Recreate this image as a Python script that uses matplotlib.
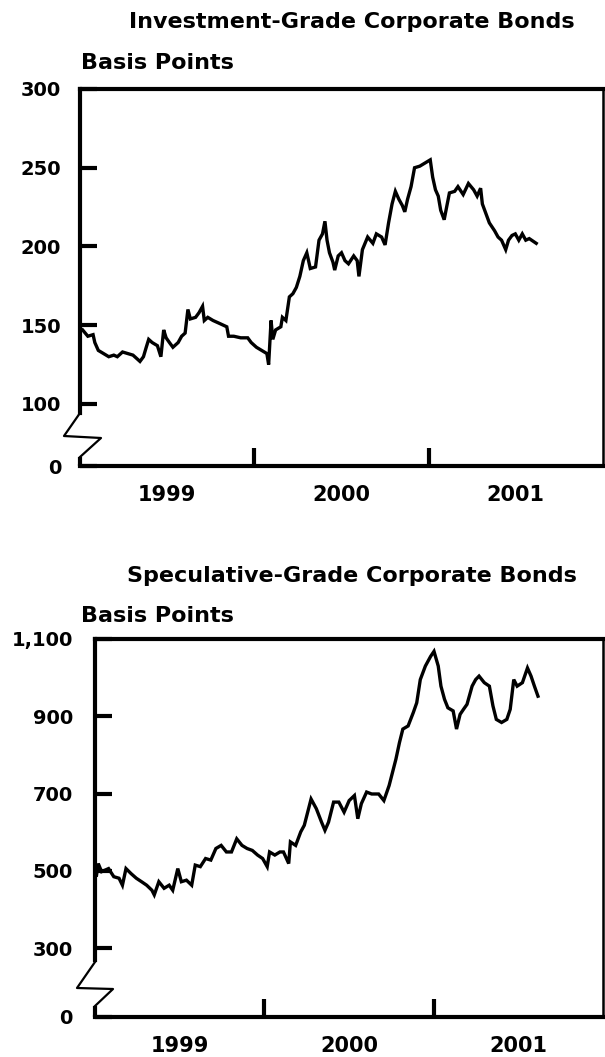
import matplotlib
matplotlib.use("Agg")
import matplotlib.pyplot as plt
from matplotlib.lines import Line2D

plt.rcParams['font.family'] = ['DejaVu Sans']
plt.rcParams['font.weight'] = 'bold'

W, H = 605, 1057

# investment-grade spread, basis points (x in decimal years)
ig_t = [1999.015, 1999.045, 1999.075, 1999.085, 1999.105, 1999.135, 1999.165, 1999.194,
        1999.214, 1999.244, 1999.274, 1999.304, 1999.324, 1999.344, 1999.364, 1999.380,
        1999.394, 1999.414, 1999.444, 1999.464, 1999.480, 1999.494, 1999.513, 1999.533,
        1999.563, 1999.583, 1999.603, 1999.619, 1999.633, 1999.663, 1999.683, 1999.703,
        1999.713, 1999.733, 1999.763, 1999.803, 1999.842, 1999.852, 1999.882, 1999.922,
        1999.962, 1999.982, 2000.012, 2000.042, 2000.072, 2000.082, 2000.096, 2000.106,
        2000.122, 2000.152, 2000.161, 2000.181, 2000.201, 2000.221, 2000.241, 2000.261,
        2000.281, 2000.301, 2000.321, 2000.351, 2000.371, 2000.391, 2000.405, 2000.417,
        2000.431, 2000.451, 2000.461, 2000.481, 2000.500, 2000.520, 2000.540, 2000.570,
        2000.590, 2000.600, 2000.620, 2000.650, 2000.680, 2000.700, 2000.730, 2000.750,
        2000.770, 2000.790, 2000.809, 2000.829, 2000.849, 2000.863, 2000.879, 2000.899,
        2000.919, 2000.949, 2000.979, 2001.009, 2001.023, 2001.039, 2001.055, 2001.069,
        2001.089, 2001.103, 2001.119, 2001.149, 2001.168, 2001.198, 2001.228, 2001.258,
        2001.278, 2001.298, 2001.308, 2001.328, 2001.348, 2001.378, 2001.398, 2001.418,
        2001.442, 2001.458, 2001.478, 2001.497, 2001.517, 2001.537, 2001.557, 2001.577,
        2001.617]
ig_bp = [147, 143, 144, 139, 134, 132, 130, 131,
         130, 133, 132, 131, 129, 127, 130, 136,
         141, 139, 137, 130, 147, 142, 139, 136,
         139, 143, 145, 160, 154, 155, 158, 162,
         153, 155, 153, 151, 149, 143, 143, 142,
         142, 139, 136, 134, 132, 125, 153, 141,
         147, 149, 155, 153, 168, 170, 174, 181,
         191, 196, 186, 187, 204, 208, 216, 204,
         196, 190, 185, 194, 196, 191, 189, 194,
         191, 181, 198, 206, 202, 208, 206, 201,
         215, 227, 235, 230, 226, 222, 230, 238,
         250, 251, 253, 255, 244, 236, 232, 223,
         217, 225, 234, 235, 238, 233, 240, 236,
         232, 237, 227, 221, 215, 210, 206, 204,
         198, 204, 207, 208, 204, 208, 204, 205,
         202]

# speculative-grade spread, basis points
sg_t = [1999.009, 1999.019, 1999.039, 1999.080, 1999.111, 1999.142, 1999.162, 1999.183,
        1999.213, 1999.244, 1999.275, 1999.305, 1999.336, 1999.350, 1999.377, 1999.408,
        1999.438, 1999.459, 1999.489, 1999.510, 1999.540, 1999.571, 1999.592, 1999.622,
        1999.653, 1999.684, 1999.714, 1999.745, 1999.776, 1999.806, 1999.837, 1999.868,
        1999.898, 1999.929, 1999.960, 1999.990, 2000.017, 2000.031, 2000.062, 2000.092,
        2000.113, 2000.144, 2000.154, 2000.185, 2000.215, 2000.236, 2000.256, 2000.276,
        2000.307, 2000.338, 2000.358, 2000.379, 2000.409, 2000.440, 2000.471, 2000.501,
        2000.532, 2000.552, 2000.573, 2000.604, 2000.634, 2000.675, 2000.706, 2000.737,
        2000.757, 2000.777, 2000.798, 2000.818, 2000.849, 2000.880, 2000.900, 2000.921,
        2000.951, 2000.982, 2001.002, 2001.027, 2001.043, 2001.064, 2001.084, 2001.115,
        2001.135, 2001.156, 2001.176, 2001.197, 2001.227, 2001.248, 2001.268, 2001.299,
        2001.329, 2001.350, 2001.370, 2001.401, 2001.432, 2001.452, 2001.473, 2001.493,
        2001.524, 2001.554, 2001.575, 2001.595, 2001.616]
sg_bp = [489, 519, 498, 506, 485, 481, 463, 506,
         493, 481, 472, 463, 450, 438, 472, 455,
         463, 450, 506, 472, 476, 463, 515, 511,
         532, 528, 558, 566, 549, 549, 583, 566,
         558, 553, 541, 532, 511, 549, 541, 549,
         549, 519, 575, 566, 601, 618, 652, 686,
         661, 626, 605, 626, 678, 678, 652, 682,
         695, 635, 674, 704, 699, 699, 682, 721,
         755, 789, 832, 867, 875, 910, 935, 995,
         1030, 1055, 1068, 1030, 978, 944, 922, 914,
         867, 905, 918, 931, 978, 995, 1004, 987,
         978, 927, 892, 884, 892, 918, 995, 978,
         987, 1025, 1004, 978, 952]

panels = [
    dict(title="Investment-Grade Corporate Bonds", t=ig_t, v=ig_bp,
         box=(80, 89, 603, 466), yticks=[100, 150, 200, 250, 300],
         ylabels=["100", "150", "200", "250", "300"], ymin=60.6, ymax=300,
         spine_lo=94.3, stub_hi=66.3, title_y=22, bp_y=63, pad=13.5,
         zig=[(80, 413), (64, 436), (101, 438), (80, 457)]),
    dict(title="Speculative-Grade Corporate Bonds", t=sg_t, v=sg_bp,
         box=(95, 639, 603, 1017), yticks=[300, 500, 700, 900, 1100],
         ylabels=["300", "500", "700", "900", "1,100"], ymin=122, ymax=1100,
         spine_lo=269, stub_hi=150, title_y=576, bp_y=616, pad=16,
         zig=[(95, 962), (77, 988), (113, 989), (95, 1006)]),
]

fig = plt.figure(figsize=(W / 100, H / 100), dpi=100)


def fx(x):
    return x / W


def fy(y):
    return 1 - y / H


for p in panels:
    l, t, r, b = p["box"]
    ax = fig.add_axes([fx(l), fy(b), (r - l) / W, (b - t) / H])
    ax.plot(p["t"], p["v"], color="black", lw=2.4, solid_joinstyle="miter")
    ax.set_xlim(1999, 2002)
    ax.set_ylim(p["ymin"], p["ymax"])

    ax.set_yticks([p["ymin"]] + p["yticks"])
    ax.set_yticklabels(["0"] + p["ylabels"])
    ax.tick_params(axis="y", direction="in", length=12, width=3, pad=p["pad"],
                   labelsize=14)

    ax.set_xticks([2000, 2001])
    ax.set_xticklabels([])
    ax.set_xticks([1999.5, 2000.5, 2001.5], minor=True)
    ax.set_xticklabels(["1999", "2000", "2001"], minor=True)
    ax.tick_params(axis="x", which="major", direction="in", length=13, width=3)
    ax.tick_params(axis="x", which="minor", length=0, pad=14, labelsize=15)

    for s in ["left", "bottom", "top"]:
        ax.spines[s].set_linewidth(3)
    ax.spines["right"].set_linewidth(1.8)
    ax.spines["left"].set_bounds(p["spine_lo"], p["ymax"])

    # axis break: zigzag and short stub down to zero
    zx = [fx(a) for a, _ in p["zig"]]
    zy = [fy(c) for _, c in p["zig"]]
    fig.add_artist(Line2D(zx, zy, color="black", lw=1.6, transform=fig.transFigure))
    ax.plot([1999, 1999], [p["ymin"], p["stub_hi"]], color="black", lw=3,
            clip_on=False, solid_capstyle="butt")

    fig.text(fx(352), fy(p["title_y"]), p["title"], ha="center", va="center",
             fontsize=16, fontweight="bold")
    fig.text(fx(81), fy(p["bp_y"]), "Basis Points", ha="left", va="center",
             fontsize=16, fontweight="bold")

fig.savefig("out.png", dpi=100)
